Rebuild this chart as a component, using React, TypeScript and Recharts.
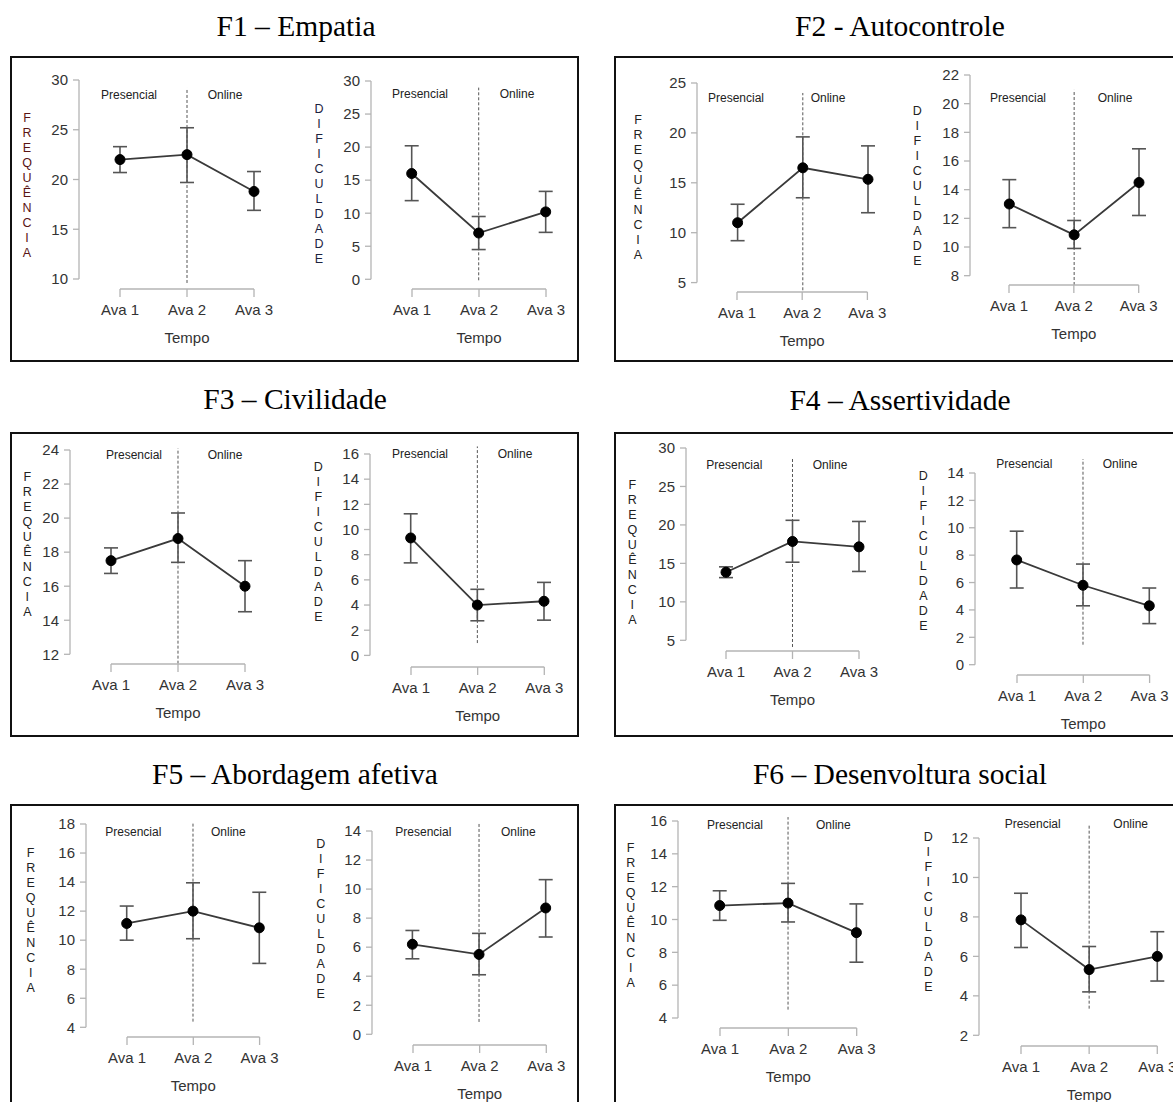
import React from 'react';
import { LineChart, Line, XAxis, YAxis, ErrorBar, ReferenceLine } from 'recharts';

const categories = ['Ava 1', 'Ava 2', 'Ava 3'];

// F1 – Empatia
const f1FreqMean = [22.0, 22.5, 18.8];
const f1FreqLow = [20.7, 19.7, 16.9];
const f1FreqHigh = [23.3, 25.2, 20.8];
const f1FreqTicks = [10, 15, 20, 25, 30];
const f1DifMean = [16.0, 7.0, 10.2];
const f1DifLow = [11.9, 4.5, 7.1];
const f1DifHigh = [20.2, 9.5, 13.3];
const f1DifTicks = [0, 5, 10, 15, 20, 25, 30];

// F2 - Autocontrole
const f2FreqMean = [11.0, 16.5, 15.35];
const f2FreqLow = [9.2, 13.5, 12.0];
const f2FreqHigh = [12.85, 19.6, 18.7];
const f2FreqTicks = [5, 10, 15, 20, 25];
const f2DifMean = [13.0, 10.85, 14.5];
const f2DifLow = [11.35, 9.9, 12.2];
const f2DifHigh = [14.7, 11.85, 16.85];
const f2DifTicks = [8, 10, 12, 14, 16, 18, 20, 22];

// F3 – Civilidade
const f3FreqMean = [17.5, 18.8, 16.0];
const f3FreqLow = [16.75, 17.4, 14.5];
const f3FreqHigh = [18.25, 20.3, 17.5];
const f3FreqTicks = [12, 14, 16, 18, 20, 22, 24];
const f3DifMean = [9.33, 4.0, 4.3];
const f3DifLow = [7.35, 2.75, 2.8];
const f3DifHigh = [11.25, 5.25, 5.8];
const f3DifTicks = [0, 2, 4, 6, 8, 10, 12, 14, 16];

// F4 – Assertividade
const f4FreqMean = [13.85, 17.85, 17.15];
const f4FreqLow = [13.15, 15.15, 13.95];
const f4FreqHigh = [14.55, 20.6, 20.45];
const f4FreqTicks = [5, 10, 15, 20, 25, 30];
const f4DifMean = [7.65, 5.8, 4.3];
const f4DifLow = [5.6, 4.3, 3.0];
const f4DifHigh = [9.75, 7.35, 5.6];
const f4DifTicks = [0, 2, 4, 6, 8, 10, 12, 14];

// F5 – Abordagem afetiva
const f5FreqMean = [11.15, 12.0, 10.85];
const f5FreqLow = [10.0, 10.1, 8.4];
const f5FreqHigh = [12.35, 13.95, 13.3];
const f5FreqTicks = [4, 6, 8, 10, 12, 14, 16, 18];
const f5DifMean = [6.2, 5.5, 8.7];
const f5DifLow = [5.2, 4.1, 6.7];
const f5DifHigh = [7.15, 6.95, 10.65];
const f5DifTicks = [0, 2, 4, 6, 8, 10, 12, 14];

// F6 – Desenvoltura social
const f6FreqMean = [10.85, 11.0, 9.2];
const f6FreqLow = [9.95, 9.85, 7.4];
const f6FreqHigh = [11.75, 12.2, 10.95];
const f6FreqTicks = [4, 6, 8, 10, 12, 14, 16];
const f6DifMean = [7.85, 5.33, 6.0];
const f6DifLow = [6.45, 4.2, 4.75];
const f6DifHigh = [9.2, 6.5, 7.25];
const f6DifTicks = [2, 4, 6, 8, 10, 12];

const titles = [
  'F1 – Empatia',
  'F2 - Autocontrole',
  'F3 – Civilidade',
  'F4 – Assertividade',
  'F5 – Abordagem afetiva',
  'F6 – Desenvoltura social',
];

const FREQ = 'FREQUÊNCIA';
const DIF = 'DIFICULDADE';

type Row = { name: string; mean: number; err: [number, number] };

function buildRows(mean: number[], low: number[], high: number[]): Row[] {
  return categories.map((name, i) => ({
    name,
    mean: mean[i],
    err: [mean[i] - low[i], high[i] - mean[i]],
  }));
}

type PanelCfg = {
  mean: number[];
  low: number[];
  high: number[];
  ticks: number[];
  divider: [number, number];
  axisX: number;
  yTop: number;
  yBot: number;
  c1: number;
  c3: number;
  bracketY: number;
  presX: number;
  onX: number;
  labY: number;
  vText: string;
  vX: number;
  vY: number;
  vColor: string;
};

const panels: PanelCfg[] = [
  { mean: f1FreqMean, low: f1FreqLow, high: f1FreqHigh, ticks: f1FreqTicks, divider: [9.6, 29.2],
    axisX: 79, yTop: 80, yBot: 279, c1: 120, c3: 254, bracketY: 289, presX: 129, onX: 225, labY: 95,
    vText: FREQ, vX: 27, vY: 118, vColor: '#5a1414' },
  { mean: f1DifMean, low: f1DifLow, high: f1DifHigh, ticks: f1DifTicks, divider: [-0.15, 29.0],
    axisX: 371, yTop: 80.7, yBot: 279, c1: 411.7, c3: 545.7, bracketY: 289, presX: 420, onX: 517, labY: 94,
    vText: DIF, vX: 319, vY: 109, vColor: '#1c2340' },
  { mean: f2FreqMean, low: f2FreqLow, high: f2FreqHigh, ticks: f2FreqTicks, divider: [4.23, 24.0],
    axisX: 696.7, yTop: 82.7, yBot: 282.3, c1: 737.3, c3: 867.7, bracketY: 292.3, presX: 736, onX: 828, labY: 98,
    vText: FREQ, vX: 638, vY: 120.7, vColor: '#222' },
  { mean: f2DifMean, low: f2DifLow, high: f2DifHigh, ticks: f2DifTicks, divider: [7.35, 20.96],
    axisX: 970, yTop: 75, yBot: 275.7, c1: 1009.3, c3: 1139, bracketY: 285, presX: 1018, onX: 1115, labY: 97.7,
    vText: DIF, vX: 917.3, vY: 111, vColor: '#222' },
  { mean: f3FreqMean, low: f3FreqLow, high: f3FreqHigh, ticks: f3FreqTicks, divider: [11.45, 24.1],
    axisX: 70, yTop: 450, yBot: 654.3, c1: 111, c3: 245, bracketY: 663.7, presX: 134, onX: 225, labY: 455,
    vText: FREQ, vX: 27.3, vY: 477.7, vColor: '#222' },
  { mean: f3DifMean, low: f3DifLow, high: f3DifHigh, ticks: f3DifTicks, divider: [0.98, 16.6],
    axisX: 370, yTop: 454.3, yBot: 655.7, c1: 410.7, c3: 544, bracketY: 666.7, presX: 420, onX: 515, labY: 454.3,
    vText: DIF, vX: 318.3, vY: 467.7, vColor: '#222' },
  { mean: f4FreqMean, low: f4FreqLow, high: f4FreqHigh, ticks: f4FreqTicks, divider: [4.13, 28.6],
    axisX: 686, yTop: 447.7, yBot: 640, c1: 726, c3: 859, bracketY: 650.7, presX: 734.3, onX: 830, labY: 465,
    vText: FREQ, vX: 632.3, vY: 485.7, vColor: '#222' },
  { mean: f4DifMean, low: f4DifLow, high: f4DifHigh, ticks: f4DifTicks, divider: [1.46, 15.2],
    axisX: 975, yTop: 473.3, yBot: 665, c1: 1016.7, c3: 1149.3, bracketY: 675, presX: 1024.3, onX: 1120, labY: 464,
    vText: DIF, vX: 923.3, vY: 476.7, vColor: '#222' },
  { mean: f5FreqMean, low: f5FreqLow, high: f5FreqHigh, ticks: f5FreqTicks, divider: [4.39, 18.05],
    axisX: 86, yTop: 824, yBot: 1027.3, c1: 126.7, c3: 259.3, bracketY: 1037.3, presX: 133.3, onX: 228.3, labY: 832.3,
    vText: FREQ, vX: 30.7, vY: 853.3, vColor: '#222' },
  { mean: f5DifMean, low: f5DifLow, high: f5DifHigh, ticks: f5DifTicks, divider: [0.85, 14.5],
    axisX: 372.3, yTop: 830.7, yBot: 1034, c1: 412.7, c3: 546, bracketY: 1045, presX: 423.3, onX: 518.3, labY: 832.3,
    vText: DIF, vX: 320.7, vY: 844, vColor: '#222' },
  { mean: f6FreqMean, low: f6FreqLow, high: f6FreqHigh, ticks: f6FreqTicks, divider: [4.51, 16.24],
    axisX: 678.3, yTop: 820.7, yBot: 1017.7, c1: 720, c3: 856.7, bracketY: 1027.7, presX: 735, onX: 833.3, labY: 825,
    vText: FREQ, vX: 630.7, vY: 848.3, vColor: '#222' },
  { mean: f6DifMean, low: f6DifLow, high: f6DifHigh, ticks: f6DifTicks, divider: [3.35, 13.06],
    axisX: 979, yTop: 837.7, yBot: 1035, c1: 1021, c3: 1157.3, bracketY: 1046, presX: 1032.7, onX: 1130.7, labY: 824,
    vText: DIF, vX: 928.3, vY: 837.7, vColor: '#222' },
];

const AXIS_GRAY = '#b4b4b4';
const TEXT_GRAY = '#333';

function Panel({ p }: { p: PanelCfg }) {
  const data = buildRows(p.mean, p.low, p.high);
  const domain: [number, number] = [p.ticks[0], p.ticks[p.ticks.length - 1]];
  const yW = 45;
  const padR = 40;
  const mTop = 14;
  const mBot = 16;
  const mainLeft = p.axisX - yW;
  const mainW = yW + (p.c3 + padR - p.axisX);
  const mainTop = p.yTop - mTop;
  const mainH = p.yBot - p.yTop + mTop + mBot;
  const axPad = 40;
  const axLeft = p.c1 - axPad;
  const axW = p.c3 - p.c1 + 2 * axPad;
  const axTop = p.bracketY - 10;

  return (
    <>
      <div style={{ position: 'absolute', left: mainLeft, top: mainTop }}>
        <LineChart width={mainW} height={mainH} data={data} margin={{ top: mTop, right: 0, bottom: mBot, left: 0 }}>
          <XAxis dataKey="name" hide padding={{ left: p.c1 - p.axisX, right: padR }} />
          <YAxis
            type="number"
            domain={domain}
            ticks={p.ticks}
            interval={0}
            width={yW}
            tickSize={6}
            tickMargin={5}
            axisLine={{ stroke: AXIS_GRAY, strokeWidth: 1.3 }}
            tickLine={{ stroke: AXIS_GRAY, strokeWidth: 1.3 }}
            tick={{ fill: TEXT_GRAY, fontSize: 15 }}
            allowDataOverflow
          />
          <ReferenceLine
            segment={[{ x: 'Ava 2', y: p.divider[0] }, { x: 'Ava 2', y: p.divider[1] }]}
            stroke="#555"
            strokeWidth={1}
            strokeDasharray="3 2"
            ifOverflow="visible"
          />
          <Line
            dataKey="mean"
            stroke="#3a3a3a"
            strokeWidth={1.8}
            dot={{ r: 5, fill: '#000', stroke: '#000', strokeWidth: 1 }}
            activeDot={false}
            isAnimationActive={false}
          >
            <ErrorBar dataKey="err" width={7} stroke="#555" strokeWidth={1.6} direction="y" isAnimationActive={false} />
          </Line>
        </LineChart>
      </div>
      <div style={{ position: 'absolute', left: axLeft, top: axTop }}>
        <LineChart width={axW} height={70} data={data} margin={{ top: 0, right: axPad, bottom: 0, left: axPad }}>
          <XAxis
            dataKey="name"
            height={60}
            tickSize={8}
            tickMargin={7}
            interval={0}
            axisLine={{ stroke: AXIS_GRAY, strokeWidth: 1.3 }}
            tickLine={{ stroke: AXIS_GRAY, strokeWidth: 1.3 }}
            tick={{ fill: TEXT_GRAY, fontSize: 15 }}
            label={{ value: 'Tempo', position: 'insideBottom', offset: 5.6, fill: TEXT_GRAY, fontSize: 15 }}
          />
          <YAxis hide />
          <Line dataKey="mean" stroke="none" dot={false} activeDot={false} isAnimationActive={false} />
        </LineChart>
      </div>
      <div style={labelStyle(p.presX, p.labY)}>Presencial</div>
      <div style={labelStyle(p.onX, p.labY)}>Online</div>
      <div
        style={{
          position: 'absolute',
          left: p.vX - 10,
          width: 20,
          top: p.vY - 7.5,
          textAlign: 'center',
          fontSize: 12.5,
          lineHeight: '15px',
          color: p.vColor,
        }}
      >
        {p.vText.split('').map((ch, i) => (
          <div key={i}>{ch}</div>
        ))}
      </div>
    </>
  );
}

function labelStyle(x: number, y: number): React.CSSProperties {
  return {
    position: 'absolute',
    left: x,
    top: y,
    transform: 'translate(-50%, -50%)',
    fontSize: 12,
    lineHeight: '14px',
    color: '#222',
    whiteSpace: 'nowrap',
  };
}

const boxes = [
  { left: 10, top: 56, width: 569, height: 306 },
  { left: 614, top: 56, width: 600, height: 306 },
  { left: 10, top: 432, width: 569, height: 305 },
  { left: 614, top: 432, width: 600, height: 305 },
  { left: 10, top: 804, width: 569, height: 340 },
  { left: 614, top: 804, width: 600, height: 340 },
];

const titlePos = [
  { x: 296, y: 26 },
  { x: 900, y: 26 },
  { x: 295, y: 399 },
  { x: 900, y: 400 },
  { x: 295, y: 774 },
  { x: 900, y: 774 },
];

export default function App() {
  return (
    <div
      style={{
        position: 'absolute',
        left: 0,
        top: 0,
        width: 1173,
        height: 1102,
        overflow: 'hidden',
        background: '#fff',
        fontFamily: '"Liberation Sans", Arial, sans-serif',
      }}
    >
      {boxes.map((b, i) => (
        <div
          key={'b' + i}
          style={{
            position: 'absolute',
            left: b.left,
            top: b.top,
            width: b.width,
            height: b.height,
            border: '2px solid #111',
            boxSizing: 'border-box',
          }}
        />
      ))}
      {titles.map((t, i) => (
        <div
          key={'t' + i}
          style={{
            position: 'absolute',
            left: titlePos[i].x,
            top: titlePos[i].y,
            transform: 'translate(-50%, -50%)',
            fontFamily: '"Liberation Serif", "Times New Roman", serif',
            fontSize: 29.5,
            lineHeight: '34px',
            whiteSpace: 'nowrap',
            color: '#000',
          }}
        >
          {t}
        </div>
      ))}
      {panels.map((p, i) => (
        <Panel key={'p' + i} p={p} />
      ))}
    </div>
  );
}
